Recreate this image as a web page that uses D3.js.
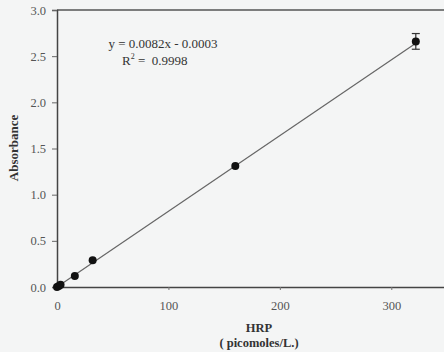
<!DOCTYPE html>
<html>
<head>
<meta charset="utf-8">
<script src="https://cdn.jsdelivr.net/npm/d3@7"></script>
<style>
  body { margin: 0; background: #f4f5f5; }
  svg { display: block; font-family: "Liberation Serif", "DejaVu Serif", serif; }
</style>
</head>
<body>
<div id="chart"></div>
<script>
// HRP concentration (picomoles/L) and measured absorbance
const hrp = [0, 1.6, 3.2, 16, 32, 160, 322];
const absorbance = [0, 0.012, 0.025, 0.12, 0.29, 1.31, 2.66];
const errors = [0, 0, 0, 0, 0, 0, 0.085];
const xTicks = [0, 100, 200, 300];
const yTicks = [0, 0.5, 1.0, 1.5, 2.0, 2.5, 3.0];
const slope = 0.0082, intercept = -0.0003;
const fitRange = [0, 324];

const width = 444, height = 352;
const svg = d3.select("#chart").append("svg")
  .attr("width", width).attr("height", height);

const x = d3.scaleLinear().domain([0, 350]).range([57, 447]);
const y = d3.scaleLinear().domain([0, 3]).range([287, 10]);

// top frame line
svg.append("line")
  .attr("x1", x(0)).attr("x2", width)
  .attr("y1", y(3)).attr("y2", y(3))
  .attr("stroke", "#555").attr("stroke-width", 1.5);

// x axis
const xAxis = svg.append("g")
  .attr("transform", `translate(0,${y(0)})`)
  .call(d3.axisBottom(x).tickValues(xTicks).tickSize(3).tickFormat(d3.format("d")));
xAxis.select(".domain").attr("stroke", "#444").attr("stroke-width", 1.5);
xAxis.selectAll(".tick line").attr("stroke", "#777");
xAxis.selectAll("text").attr("fill", "#555").attr("font-size", 12.5)
  .attr("font-family", "Liberation Serif").attr("y", 12).attr("dy", "0.9em");

// y axis
const yAxis = svg.append("g")
  .attr("transform", `translate(${x(0)},0)`)
  .call(d3.axisLeft(y).tickValues(yTicks).tickSize(5).tickFormat(d3.format(".1f")));
yAxis.select(".domain").attr("stroke", "#444").attr("stroke-width", 1.5);
yAxis.selectAll(".tick line").attr("stroke", "#666");
yAxis.selectAll("text").attr("fill", "#555").attr("font-size", 12.5)
  .attr("font-family", "Liberation Serif").attr("x", -11);

// regression line
svg.append("line")
  .attr("x1", x(fitRange[0])).attr("y1", y(slope * fitRange[0] + intercept))
  .attr("x2", x(fitRange[1])).attr("y2", y(slope * fitRange[1] + intercept))
  .attr("stroke", "#666").attr("stroke-width", 1.2);

// error bars
const pts = hrp.map((h, i) => ({ h, a: absorbance[i], e: errors[i] }));
const eb = svg.append("g").attr("stroke", "#333").attr("stroke-width", 1.2);
pts.filter(d => d.e > 0).forEach(d => {
  eb.append("line").attr("x1", x(d.h)).attr("x2", x(d.h))
    .attr("y1", y(d.a - d.e)).attr("y2", y(d.a + d.e));
  [d.a - d.e, d.a + d.e].forEach(v => {
    eb.append("line").attr("x1", x(d.h) - 4).attr("x2", x(d.h) + 4)
      .attr("y1", y(v)).attr("y2", y(v));
  });
});

// markers
svg.selectAll("circle.pt").data(pts).enter().append("circle")
  .attr("class", "pt")
  .attr("cx", d => x(d.h)).attr("cy", d => y(d.a))
  .attr("r", 4).attr("fill", "#111");

// equation
svg.append("text").attr("font-size", 13).attr("fill", "#333")
  .attr("text-anchor", "middle").attr("x", 163).attr("y", 48)
  .text("y = 0.0082x - 0.0003");
const r2 = svg.append("text").attr("font-size", 13).attr("fill", "#333")
  .attr("x", 122).attr("y", 65);
r2.append("tspan").text("R");
r2.append("tspan").attr("font-size", 8).attr("dy", -6).text("2");
r2.append("tspan").attr("dy", 6).text(" =\u00a0 0.9998");

// axis titles
svg.append("text")
  .attr("transform", "translate(18,148) rotate(-90)")
  .attr("text-anchor", "middle").attr("font-weight", "bold")
  .attr("font-size", 13).attr("fill", "#333").text("Absorbance");
svg.append("text").attr("x", 259).attr("y", 332)
  .attr("text-anchor", "middle").attr("font-weight", "bold")
  .attr("font-size", 12.5).attr("fill", "#333").text("HRP");
svg.append("text").attr("x", 259).attr("y", 347)
  .attr("text-anchor", "middle").attr("font-weight", "bold")
  .attr("font-size", 12.5).attr("fill", "#333").text("( picomoles/L.)");
</script>
</body>
</html>
